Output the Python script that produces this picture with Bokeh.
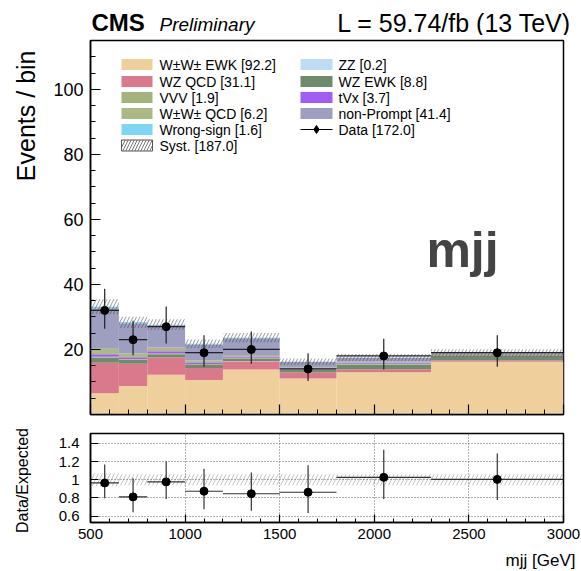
import math
import numpy as np
from bokeh.plotting import figure
from bokeh.models import Range1d, FixedTicker, Label, CustomJSTickFormatter
from bokeh.layouts import column, row
from bokeh.embed import file_html
from bokeh.resources import INLINE
from bokeh.core.properties import value

# ---------------- data ----------------
bin_edges = [500, 650, 800, 1000, 1200, 1500, 1800, 2300, 3000]
data_counts = [32, 23, 27, 19, 20, 14, 18, 19]
data_err_lo = [5.6, 4.8, 5.2, 4.3, 4.4, 3.7, 4.2, 4.3]
data_err_hi = [6.7, 5.8, 6.2, 5.4, 5.5, 4.8, 5.3, 5.4]

ww_ewk = [6.5, 8.8, 12.2, 10.6, 13.8, 11.1, 13.0, 16.2]
wz_qcd = [9.4, 6.8, 5.3, 3.7, 2.6, 1.9, 0.9, 0.5]
zz = [0.04, 0.03, 0.03, 0.03, 0.02, 0.02, 0.02, 0.01]
wz_ewk = [1.5, 1.2, 1.0, 0.9, 0.8, 0.7, 1.4, 1.3]
vvv = [0.3, 0.2, 0.2, 0.2, 0.2, 0.2, 0.3, 0.3]
tvx = [0.8, 0.6, 0.7, 0.4, 0.4, 0.3, 0.3, 0.2]
ww_qcd = [1.7, 1.2, 1.2, 0.8, 0.5, 0.3, 0.3, 0.2]
non_prompt = [12.4, 9.2, 6.8, 4.9, 5.1, 1.6, 1.2, 0.2]
wrong_sign = [0.5, 0.3, 0.2, 0.2, 0.2, 0.1, 0.1, 0.0]
syst_rel = [0.07, 0.06, 0.06, 0.06, 0.06, 0.06, 0.06, 0.06]

x_ticks = [500, 1000, 1500, 2000, 2500, 3000]
y_ticks_main = [20, 40, 60, 80, 100]
y_ticks_ratio = [0.6, 0.8, 1.0, 1.2, 1.4]

legend_left = ["W\u00b1W\u00b1 EWK [92.2]", "WZ QCD [31.1]", "VVV [1.9]",
               "W\u00b1W\u00b1 QCD [6.2]", "Wrong-sign [1.6]", "Syst. [187.0]"]
legend_right = ["ZZ [0.2]", "WZ EWK [8.8]", "tVx [3.7]", "non-Prompt [41.4]", "Data [172.0]"]

# ---------------- styles ----------------
FONT = "Liberation Sans"
col = {
    "ww_ewk": "#efcf9c", "wz_qcd": "#d9798b", "zz": "#bcdcf6", "wz_ewk": "#6f8b6e",
    "vvv": "#a4b27c", "tvx": "#a35cf3", "ww_qcd": "#adb985", "non_prompt": "#9d9ec0",
    "wrong_sign": "#7dd6f6",
}
stack = [("ww_ewk", ww_ewk), ("wz_qcd", wz_qcd), ("zz", zz), ("wz_ewk", wz_ewk),
         ("vvv", vvv), ("tvx", tvx), ("ww_qcd", ww_qcd), ("non_prompt", non_prompt),
         ("wrong_sign", wrong_sign)]

edges = np.array(bin_edges, dtype=float)
left = edges[:-1]
right = edges[1:]
centers = 0.5 * (left + right)
d = np.array(data_counts, dtype=float)
elo = np.array(data_err_lo)
ehi = np.array(data_err_hi)

W, H = 581, 571
STRIP = 40          # left strip for rotated labels
TOP_H = 35          # title strip
BOT_Y = 549         # start of bottom strip (page px)
# main frame geometry in page pixels
FL, FR, FT, FB = 90, 563, 40, 414
MAIN_BOTTOM = 424
YMAX = 115.0
# ratio frame geometry
RT, RB = 433, 522
RY0, RY1 = 0.53, 1.51


def X(px):
    return 500 + (px - FL) * 2500.0 / (FR - FL)


def Y(py):
    return (FB - py) * YMAX / (FB - FT)


def text_fig(w, h):
    f = figure(width=w, height=h, x_range=Range1d(0, w), y_range=Range1d(0, h),
               output_backend="svg", toolbar_location=None,
               x_axis_location=None, y_axis_location=None, min_border=0)
    f.grid.visible = False
    f.outline_line_color = None
    f.background_fill_color = "white"
    f.border_fill_color = "white"
    return f


def style_axis(ax, tick_in, minor_in, size):
    ax.major_tick_in = tick_in
    ax.major_tick_out = 0
    ax.minor_tick_in = minor_in
    ax.minor_tick_out = 0
    ax.axis_line_width = 1.5
    ax.major_tick_line_width = 1.2
    ax.major_label_text_font = FONT
    ax.major_label_text_font_size = size
    ax.major_label_text_color = "black"


# ---------------- title strip ----------------
t = text_fig(W, TOP_H)
t.text(x=[91], y=[TOP_H - 22], text=["CMS"], text_font=value(FONT), text_font_size="24px",
       text_font_style="bold", text_baseline="middle", text_align="left", text_color="black")
t.text(x=[159], y=[TOP_H - 24], text=["Preliminary"], text_font=value(FONT), text_font_size="19px",
       text_font_style="italic", text_baseline="middle", text_align="left", text_color="black")
t.text(x=[571], y=[TOP_H - 22], text=["L = 59.74/fb (13 TeV)"], text_font=value(FONT),
       text_font_size="25px", text_baseline="middle", text_align="right", text_color="black")

# ---------------- left strip ----------------
SH = BOT_Y - TOP_H
s_fig = text_fig(STRIP, SH)
s_fig.text(x=[25], y=[BOT_Y - 50], text=["Events / bin"], text_font=value(FONT),
           text_font_size="25px", angle=math.pi / 2, text_baseline="middle",
           text_align="right", text_color="black")
s_fig.text(x=[22], y=[BOT_Y - 480], text=["Data/Expected"], text_font=value(FONT),
           text_font_size="16px", angle=math.pi / 2, text_baseline="middle",
           text_align="center", text_color="black")

# ---------------- main panel ----------------
p = figure(width=W - STRIP, height=MAIN_BOTTOM - TOP_H, x_range=Range1d(500, 3000),
           y_range=Range1d(0, YMAX), output_backend="svg", toolbar_location=None,
           min_border_left=FL - STRIP, min_border_right=W - FR, min_border_top=FT - TOP_H,
           min_border_bottom=MAIN_BOTTOM - FB)
p.xgrid.visible = False
p.ygrid.visible = False
p.outline_line_color = "black"
p.outline_line_width = 1.5
p.outline_line_alpha = 1.0
p.background_fill_color = "white"
p.border_fill_color = "white"

p.xaxis.ticker = FixedTicker(ticks=x_ticks, minor_ticks=list(range(500, 3001, 100)))
p.yaxis.ticker = FixedTicker(ticks=y_ticks_main, minor_ticks=list(range(0, 116, 5)))
style_axis(p.xaxis[0], 10, 5, "16px")
style_axis(p.yaxis[0], 10, 5, "18px")
p.xaxis.formatter = CustomJSTickFormatter(code="return '';")
p.xaxis.major_label_standoff = 0
p.yaxis.major_label_standoff = 7

bottom = np.zeros(len(left))
for name, vals in stack:
    v = np.array(vals, dtype=float)
    p.quad(left=left, right=right, bottom=bottom, top=bottom + v,
           fill_color=col[name], line_color=None)
    bottom = bottom + v
total = bottom.copy()
s = np.array(syst_rel)

p.quad(left=left, right=right, bottom=total * (1 - s), top=total * (1 + s),
       fill_alpha=0, line_color=None, hatch_pattern="/", hatch_color="#444444",
       hatch_alpha=0.7, hatch_scale=7, hatch_weight=0.8)

# data
p.segment(x0=centers, y0=d - elo, x1=centers, y1=d + ehi, line_color="#222222", line_width=1.2)
p.segment(x0=left, y0=d, x1=right, y1=d, line_color="#222222", line_width=1.2)
p.scatter(x=centers, y=d, size=8, marker="circle", fill_color="black", line_color="black")

# legend
rows = [64, 81, 97, 113, 129, 145]
sw_h = 11
left_keys = ["ww_ewk", "wz_qcd", "vvv", "ww_qcd", "wrong_sign", None]
right_keys = ["zz", "wz_ewk", "tvx", "non_prompt", "data"]
for i, (key, txt) in enumerate(zip(left_keys, legend_left)):
    yc = rows[i]
    if key is None:
        p.quad(left=[X(121)], right=[X(152)], bottom=[Y(yc + sw_h / 2)], top=[Y(yc - sw_h / 2)],
               fill_color="white", line_color="#555555", line_width=1,
               hatch_pattern="/", hatch_color="#555555", hatch_scale=6, hatch_weight=0.8)
    else:
        p.quad(left=[X(121)], right=[X(152)], bottom=[Y(yc + sw_h / 2)], top=[Y(yc - sw_h / 2)],
               fill_color=col[key], line_color=None)
    p.add_layout(Label(x=X(159), y=Y(yc), text=txt, text_font=FONT, text_font_size="14px",
                       text_baseline="middle", text_align="left", text_color="black"))
for i, (key, txt) in enumerate(zip(right_keys, legend_right)):
    yc = rows[i]
    if key == "data":
        p.segment(x0=[X(300)], y0=[Y(yc)], x1=[X(332)], y1=[Y(yc)], line_color="black", line_width=1.2)
        p.scatter(x=[X(316)], y=[Y(yc)], size=8, marker="diamond", fill_color="black", line_color="black")
    else:
        p.quad(left=[X(300)], right=[X(332)], bottom=[Y(yc + sw_h / 2)], top=[Y(yc - sw_h / 2)],
               fill_color=col[key], line_color=None)
    p.add_layout(Label(x=X(338), y=Y(yc), text=txt, text_font=FONT, text_font_size="14px",
                       text_baseline="middle", text_align="left", text_color="black"))

p.add_layout(Label(x=X(462), y=Y(249), text="mjj", text_font=FONT, text_font_size="50px",
                   text_font_style="bold", text_color="#444444", text_baseline="alphabetic",
                   text_align="center"))

# ---------------- ratio panel ----------------
r = figure(width=W - STRIP, height=BOT_Y - MAIN_BOTTOM, x_range=Range1d(500, 3000),
           y_range=Range1d(RY0, RY1), output_backend="svg", toolbar_location=None,
           min_border_left=FL - STRIP, min_border_right=W - FR, min_border_top=RT - MAIN_BOTTOM,
           min_border_bottom=BOT_Y - RB)
r.outline_line_color = "black"
r.outline_line_width = 1.5
r.outline_line_alpha = 1.0
r.background_fill_color = "white"
r.border_fill_color = "white"
r.xaxis.ticker = FixedTicker(ticks=x_ticks, minor_ticks=list(range(500, 3001, 100)))
r.yaxis.ticker = FixedTicker(ticks=y_ticks_ratio, minor_ticks=[])
r.yaxis.formatter = CustomJSTickFormatter(code="return String(Math.round(tick*10)/10);")
style_axis(r.xaxis[0], 8, 4, "15px")
style_axis(r.yaxis[0], 8, 4, "15px")
r.xaxis.major_label_standoff = 6
r.yaxis.major_label_standoff = 11
r.xgrid.ticker = FixedTicker(ticks=[1000, 1500, 2000, 2500])
r.ygrid.ticker = FixedTicker(ticks=y_ticks_ratio)
for g in (r.xgrid[0], r.ygrid[0]):
    g.grid_line_color = "#666666"
    g.grid_line_dash = "1 2"
    g.grid_line_width = 1

ratio = d / total
r.quad(left=left, right=right, bottom=1 - s, top=1 + s, fill_alpha=0, line_color=None,
       hatch_pattern="/", hatch_color="#666666", hatch_alpha=0.5, hatch_scale=8, hatch_weight=0.8)
r.segment(x0=centers, y0=ratio - elo / total, x1=centers, y1=ratio + ehi / total,
          line_color="#333333", line_width=1.2)
r.segment(x0=left, y0=ratio, x1=right, y1=ratio, line_color="#333333", line_width=1.2)
r.scatter(x=centers, y=ratio, size=8, marker="circle", fill_color="black", line_color="black")

# ---------------- bottom strip ----------------
b = text_fig(W, H - BOT_Y)
b.text(x=[575], y=[H - 560], text=["mjj [GeV]"], text_font=value(FONT), text_font_size="17px",
       text_baseline="middle", text_align="right", text_color="black")

layout = column(t, row(s_fig, column(p, r, spacing=0), spacing=0), b, spacing=0)
open("out.html", "w").write(file_html(layout, INLINE))
